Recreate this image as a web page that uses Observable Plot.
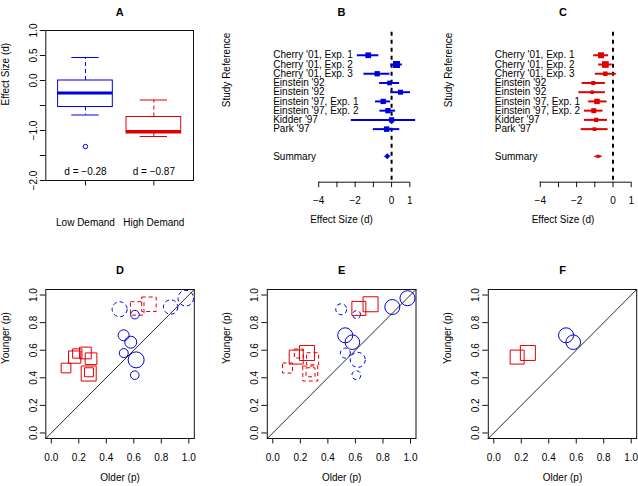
<!DOCTYPE html>
<html><head><meta charset="utf-8">
<script src="https://cdn.jsdelivr.net/npm/d3@7"></script>
<script src="https://cdn.jsdelivr.net/npm/@observablehq/plot@0.6"></script>
<style>
body{margin:0;background:#fff;}
#chart{position:relative;width:638px;height:486px;overflow:hidden;background:#fff;}
#chart svg{position:absolute;left:0;top:0;}
</style></head><body><div id="chart"></div>
<script>
// ---------------- Panel A: box plots ----------------
const demandGroups = ["Low Demand", "High Demand"];
const whiskerLow  = [-0.69, -1.12];
const quartile1   = [-0.53, -1.06];
const medians     = [-0.25, -1.02];
const quartile3   = [0.00, -0.73];
const whiskerHigh = [0.46, -0.39];
const outlierGroup = ["Low Demand"];
const outlierValue = [-1.32];
const meanLabels = ["d = −0.28", "d = −0.87"];
const effectTicks = [-2, -1.5, -1, -0.5, 0, 0.5, 1];
const effectTickLabels = ["−2.0", "", "−1.0", "", "0.0", "0.5", "1.0"];

// ---------------- Panels B / C: forest plots ----------------
const studies = ["Cherry '01, Exp. 1", "Cherry '01, Exp. 2", "Cherry '01, Exp. 3", "Einstein '92", "Einstein '92",
  "Einstein '97, Exp. 1", "Einstein '97, Exp. 2", "Kidder '97", "Park '97"];
const lowEst  = [-1.28, 0.27, -0.79, -0.11, 0.49, -0.46, -0.20, 0.00, -0.27];
const lowLo   = [-1.88, -0.05, -1.52, -0.66, -0.05, -0.88, -0.64, -2.21, -1.00];
const lowHi   = [-0.70, 0.59, -0.09, 0.44, 1.04, -0.05, 0.22, 1.32, 0.45];
const lowWeight  = [5.7, 7.0, 5.3, 4.7, 5.0, 5.3, 5.3, 5.3, 5.5];
const lowSummary = [-0.21, -0.36, -0.06];   // estimate, lower, upper
const highEst = [-0.66, -0.42, -0.42, -1.09, -1.15, -0.88, -1.06, -0.93, -1.02];
const highLo  = [-1.06, -0.79, -0.97, -1.70, -1.88, -1.34, -1.57, -1.57, -1.75];
const highHi  = [-0.24, -0.05, 0.18, -0.42, -0.42, -0.33, -0.55, -0.30, -0.27];
const highWeight  = [6.0, 6.7, 4.5, 4.0, 3.5, 5.5, 5.0, 4.3, 3.7];
const highSummary = [-0.79, -1.00, -0.58];
const forestTicks = [-4, -3, -2, -1, 0, 1];
const forestTickLabels = ["−4", "", "−2", "", "0", "1"];

// ---------------- Panels D / E / F: p(younger) vs p(older) ----------------
const circleOlder   = [0.526, 0.578, 0.527, 0.617, 0.607, 0.608, 0.497, 0.868, 0.978];
const circleYounger = [0.708, 0.658, 0.579, 0.530, 0.419, 0.858, 0.897, 0.913, 0.977];
const circleSizeD   = [5.5, 6.0, 4.5, 8.0, 4.3, 4.3, 7.5, 7.2, 7.8];
const circleSizeE   = [7.5, 7.3, 5.0, 7.5, 4.5, 4.0, 5.5, 7.5, 7.5];
const circleDashedD = [0, 0, 0, 0, 0, 0, 1, 1, 1];
const circleDashedE = [0, 0, 1, 1, 1, 1, 1, 0, 0];
const circleInF     = [1, 1, 0, 0, 0, 0, 0, 0, 0];
const squareOlder   = [0.107, 0.189, 0.170, 0.248, 0.289, 0.272, 0.274, 0.625, 0.710];
const squareYounger = [0.471, 0.576, 0.550, 0.580, 0.538, 0.431, 0.440, 0.903, 0.933];
const squareSizeD   = [9.7, 9.3, 12.3, 11.7, 11.7, 15.0, 9.0, 13.5, 14.5];
const squareSizeE   = [10.0, 9.0, 14.0, 15.0, 12.0, 15.0, 9.0, 14.0, 15.0];
const squareDashedD = [0, 0, 0, 0, 0, 0, 0, 1, 1];
const squareDashedE = [1, 1, 0, 0, 1, 1, 1, 0, 0];
const squareInF     = [0, 0, 1, 1, 0, 0, 0, 0, 0];
const pTicks = [0, 0.2, 0.4, 0.6, 0.8, 1.0];
const pTickLabels = ["0.0", "0.2", "0.4", "0.6", "0.8", "1.0"];

// ---------------- styling / layout ----------------
const W = 638, H = 486;
const FONT = "'Liberation Sans', Arial, Helvetica, sans-serif";
const BLUE = "#0000dd", RED = "#e00000", INK = "#111";
const groupColor = {"Low Demand": BLUE, "High Demand": RED};
const SQ = Math.sqrt(Math.PI);
const chart = document.getElementById("chart");

function place(frame, x, y, marks) {
  const [l, t, r, b] = frame;
  const svg = Plot.plot({
    width: W, height: H,
    marginLeft: l, marginTop: t, marginRight: W - r, marginBottom: H - b,
    style: {background: "transparent", fontFamily: FONT, fontSize: "10px", color: "black", overflow: "visible"},
    x: {...x, axis: null}, y: {...y, axis: null},
    r: {type: "linear", domain: [0, 100], range: [0, 100]},
    color: {type: "identity"},
    marks
  });
  chart.append(svg);
}
const title = (s, dy) => Plot.text([s], {frameAnchor: "top", dy, text: d => d, fontWeight: "bold", fontSize: 11});

// ---------- Panel A ----------
{
  const xd = [0.42, 2.58], yd = [-2, 1];
  const boxes = demandGroups.map((g, i) => ({g, pos: i + 1, wl: whiskerLow[i], q1: quartile1[i], med: medians[i], q3: quartile3[i], wh: whiskerHigh[i], lab: meanLabels[i]}));
  const outliers = outlierValue.map((v, i) => ({pos: demandGroups.indexOf(outlierGroup[i]) + 1, v, g: outlierGroup[i]}));
  place([45.3, 30, 193, 180], {domain: xd}, {domain: yd}, [
    Plot.ruleX(boxes, {x: "pos", y1: "q3", y2: "wh", stroke: d => groupColor[d.g], strokeDasharray: "4,3"}),
    Plot.ruleX(boxes, {x: "pos", y1: "q1", y2: "wl", stroke: d => groupColor[d.g], strokeDasharray: "4,3"}),
    Plot.ruleY(boxes, {y: "wh", x1: d => d.pos - 0.2, x2: d => d.pos + 0.2, stroke: d => groupColor[d.g]}),
    Plot.ruleY(boxes, {y: "wl", x1: d => d.pos - 0.2, x2: d => d.pos + 0.2, stroke: d => groupColor[d.g]}),
    Plot.rect(boxes, {x1: d => d.pos - 0.4, x2: d => d.pos + 0.4, y1: "q1", y2: "q3", fill: "none", stroke: d => groupColor[d.g], strokeWidth: 1}),
    Plot.ruleY(boxes, {y: "med", x1: d => d.pos - 0.4, x2: d => d.pos + 0.4, stroke: d => groupColor[d.g], strokeWidth: 3}),
    Plot.dot(outliers, {x: "pos", y: "v", r: 2.2, stroke: d => groupColor[d.g], strokeWidth: 1}),
    Plot.text(boxes, {x: "pos", y: yd[0], dy: -9, text: "lab", fontSize: 10}),
    Plot.frame({stroke: INK}),
    Plot.ruleY(effectTicks, {y: d => d, x1: xd[0], x2: xd[0], insetLeft: -5.5, stroke: INK}),
    Plot.text(effectTicks, {y: d => d, x: xd[0], dx: -12.5, rotate: -90, text: (d, i) => effectTickLabels[i]}),
    Plot.ruleX(boxes, {x: "pos", y1: yd[0], y2: yd[0], insetBottom: -5.5, stroke: INK}),
    Plot.text(boxes, {x: "pos", y: yd[0], dy: 42, text: "g"}),
    Plot.text(["Effect Size (d)"], {frameAnchor: "left", dx: -40.5, rotate: -90, text: d => d}),
    title("A", -22.5)
  ]);
}

// ---------- Panels B, C ----------
function forest(frame, letter, est, lo, hi, weight, summary, color, diamondHalf) {
  const xd = [-6.5, 1], yd = [14.75, -1.5];
  const rows = studies.map((s, i) => ({s, row: i + 1, est: est[i], lo: lo[i], hi: hi[i], side: weight[i]}));
  const sumRow = studies.length + 3;
  const diamond = [
    {x: summary[1], y1: sumRow, y2: sumRow},
    {x: summary[0], y1: sumRow - diamondHalf, y2: sumRow + diamondHalf},
    {x: summary[2], y1: sumRow, y2: sumRow}
  ];
  place(frame, {domain: xd}, {domain: yd}, [
    Plot.ruleX([0], {x: d => d, stroke: "black", strokeWidth: 2, strokeDasharray: "4,4"}),
    Plot.ruleY(rows, {y: "row", x1: "lo", x2: "hi", stroke: color, strokeWidth: 2}),
    Plot.dot(rows, {x: "est", y: "row", r: d => d.side / SQ, symbol: "square", fill: color, stroke: "none"}),
    Plot.areaY(diamond, {x: "x", y1: "y1", y2: "y2", fill: color, stroke: color, strokeWidth: 0.5}),
    Plot.text(rows, {y: "row", frameAnchor: "left", textAnchor: "start", text: "s", fontSize: 10}),
    Plot.text(["Summary"], {y: sumRow, frameAnchor: "left", textAnchor: "start", text: d => d, fontSize: 10}),
    Plot.ruleY([yd[0]], {y: d => d, x1: d3.min(forestTicks), x2: d3.max(forestTicks), stroke: INK}),
    Plot.ruleX(forestTicks, {x: d => d, y1: yd[0], y2: yd[0], insetBottom: -5.5, stroke: INK}),
    Plot.text(forestTicks, {x: d => d, y: yd[0], dy: 18.3, text: (d, i) => forestTickLabels[i]}),
    Plot.text(["Effect Size (d)"], {frameAnchor: "bottom", dy: 40.5, text: d => d}),
    Plot.text(["Study Reference"], {frameAnchor: "left", dx: -46.3, rotate: -90, text: d => d}),
    title(letter, -24.2)
  ]);
}
forest([272.7, 31.7, 409.3, 181.7], "B", lowEst, lowLo, lowHi, lowWeight, lowSummary, BLUE, 0.3);
forest([494.3, 31.7, 630.7, 181.7], "C", highEst, highLo, highHi, highWeight, highSummary, RED, 0.17);

// ---------- Panels D, E, F ----------
function scatter(frame, letter, cSize, cDash, sSize, sDash, cKeep, sKeep) {
  const pd = [-0.04, 1.04];
  const circles = circleOlder.map((x, i) => ({x, y: circleYounger[i], r: cSize[i], dashed: cDash[i], keep: cKeep ? cKeep[i] : 1})).filter(d => d.keep);
  const squares = squareOlder.map((x, i) => ({x, y: squareYounger[i], side: sSize[i], dashed: sDash[i], keep: sKeep ? sKeep[i] : 1})).filter(d => d.keep);
  place(frame, {domain: pd}, {domain: pd}, [
    Plot.line(pd, {x: d => d, y: d => d, stroke: INK, strokeWidth: 0.9}),
    Plot.dot(squares.filter(d => d.dashed), {x: "x", y: "y", r: d => d.side / SQ, symbol: "square", stroke: RED, strokeWidth: 1, strokeDasharray: "4,3"}),
    Plot.dot(circles.filter(d => d.dashed), {x: "x", y: "y", r: "r", stroke: BLUE, strokeWidth: 1, strokeDasharray: "4,3"}),
    Plot.dot(squares.filter(d => !d.dashed), {x: "x", y: "y", r: d => d.side / SQ, symbol: "square", stroke: RED, strokeWidth: 1}),
    Plot.dot(circles.filter(d => !d.dashed), {x: "x", y: "y", r: "r", stroke: BLUE, strokeWidth: 1}),
    Plot.frame({stroke: INK}),
    Plot.ruleX(pTicks, {x: d => d, y1: pd[0], y2: pd[0], insetBottom: -5.5, stroke: INK}),
    Plot.text(pTicks, {x: d => d, y: pd[0], dy: 19.5, text: (d, i) => pTickLabels[i]}),
    Plot.ruleY(pTicks, {y: d => d, x1: pd[0], x2: pd[0], insetLeft: -5.5, stroke: INK}),
    Plot.text(pTicks, {y: d => d, x: pd[0], dx: -12.5, rotate: -90, text: (d, i) => pTickLabels[i]}),
    Plot.text(["Older (p)"], {frameAnchor: "bottom", dy: 42, text: d => d}),
    Plot.text(["Younger (p)"], {frameAnchor: "left", dx: -40.5, rotate: -90, text: d => d}),
    title(letter, -23)
  ]);
}
scatter([45.3, 289, 193.8, 438], "D", circleSizeD, circleDashedD, squareSizeD, squareDashedD);
scatter([266.8, 289, 415.5, 438], "E", circleSizeE, circleDashedE, squareSizeE, squareDashedE);
scatter([487.8, 289, 636.2, 438], "F", circleSizeE, circleSizeE.map(() => 0), squareSizeE, squareSizeE.map(() => 0), circleInF, squareInF);
</script></body></html>
